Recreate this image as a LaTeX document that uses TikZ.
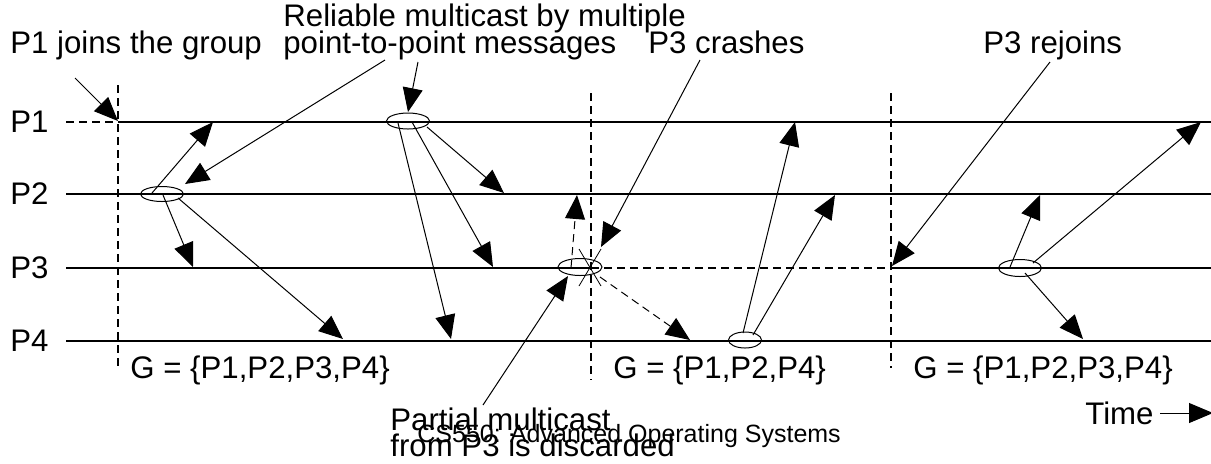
\documentclass[tikz,border=0pt]{standalone}
\usepackage{fontspec}
\setmainfont{Liberation Sans}
\usetikzlibrary{arrows.meta,shapes.geometric}
\begin{document}
\begin{tikzpicture}[x=0.5pt, y=-0.5pt,
		msg/.style = {-{Triangle[length=12pt, width=10pt]}, line width=0.5pt},
		lost/.style = {msg, dash pattern=on 4pt off 2.5pt},
		proc/.style = {draw, ellipse, inner sep=0pt, line width=0.5pt},
		txt/.style = {font=\fontsize{15.6}{18}\selectfont, inner sep=0pt, anchor=base west}]
				\tikzstyle{life}=[line width=0.55pt]
				\tikzstyle{cut}=[line width=0.55pt, dash pattern=on 4pt off 2.5pt]
				\useasboundingbox (0,0) rectangle (1211,463);
				\node (P1) at (10,122) [txt, anchor=west] {P1};
				\node (P2) at (10,194) [txt, anchor=west] {P2};
				\node (P3) at (10,268) [txt, anchor=west] {P3};
				\node (P4) at (10,341) [txt, anchor=west] {P4};
				\coordinate (a1) at (66,122);  \coordinate (b1) at (118,122); \coordinate (c1) at (1211,122);
				\coordinate (a2) at (66,194);  \coordinate (c2) at (1211,194);
				\coordinate (a3) at (66,268);  \coordinate (b3) at (591,268); \coordinate (d3) at (891,268); \coordinate (c3) at (1211,268);
				\coordinate (a4) at (66,341);  \coordinate (c4) at (1211,341);
				\draw[cut] (a1) -- (b1);
				\draw[life] (b1) -- (c1);
				\draw[life] (a2) -- (c2);
				\draw[life] (a3) -- (b3);
				\draw[cut] (b3) -- (d3);
				\draw[life] (d3) -- (c3);
				\draw[life] (a4) -- (c4);
				\draw[cut] (118,85) -- (118,368);
				\draw[cut] (591,93) -- (591,380);
				\draw[cut] (891,93) -- (891,368);
				\node (m2) at (162,194) [proc, minimum width=21.5pt, minimum height=7.5pt] {};
				\node (m1) at (408,121) [proc, minimum width=21.5pt, minimum height=8pt] {};
				\node (m3) at (580,267) [proc, minimum width=22pt, minimum height=8.5pt] {};
				\node (m4) at (745,340) [proc, minimum width=16.5pt, minimum height=8pt] {};
				\node (m5) at (1020,268) [proc, minimum width=21.5pt, minimum height=8.5pt] {};
				\coordinate (s21) at (152,193); \coordinate (t21) at (213,122);
				\coordinate (s23) at (163,195); \coordinate (t23) at (193,267);
				\coordinate (s24) at (178,198); \coordinate (t24) at (343,339);
				\coordinate (s12) at (427,127); \coordinate (t12) at (504,193);
				\coordinate (s13) at (412,122); \coordinate (t13) at (493,267);
				\coordinate (s14) at (398,123); \coordinate (t14) at (451,339);
				\coordinate (s32) at (571,268); \coordinate (t32) at (577,195);
				\coordinate (s34) at (600,277); \coordinate (t34) at (690,340);
				\coordinate (s41) at (743,333); \coordinate (t41) at (795,122);
				\coordinate (s42) at (753,335); \coordinate (t42) at (835,195);
				\coordinate (s52) at (1010,267); \coordinate (t52) at (1040,195);
				\coordinate (s51) at (1033,263); \coordinate (t51) at (1201,122);
				\coordinate (s54) at (1025,273); \coordinate (t54) at (1083,339);
				\draw[msg] (s21) -- (t21);
				\draw[msg] (s23) -- (t23);
				\draw[msg] (s24) -- (t24);
				\draw[msg] (s12) -- (t12);
				\draw[msg] (s13) -- (t13);
				\draw[msg] (s14) -- (t14);
				\draw[lost] (s32) -- (t32);
				\draw[lost] (s34) -- (t34);
				\draw[msg] (s41) -- (t41);
				\draw[msg] (s42) -- (t42);
				\draw[msg] (s52) -- (t52);
				\draw[msg] (s51) -- (t51);
				\draw[msg] (s54) -- (t54);
				\draw[line width=0.4pt] (579,249) -- (601,286);
				\draw[line width=0.4pt] (601,249) -- (579,286);
				\node (join) at (10,53) [txt] {P1 joins the group};
				\node (rel) at (283,26) [txt] {Reliable multicast by multiple};
				\node (relb) at (283,53) [txt] {point-to-point messages};
				\node (crash) at (648,53) [txt] {P3 crashes};
				\node (rejoin) at (983,53) [txt] {P3 rejoins};
				\node (part) at (390,430) [txt] {Partial multicast};
				\node (partb) at (390,456) [txt] {from P3 is discarded};
				\node (foot) at (417,442) [txt, font=\fontsize{12.5}{14}\selectfont] {CS550: Advanced Operating Systems};
				\node (g1) at (130,378) [txt] {G = \{P1,P2,P3,P4\}};
				\node (g2) at (613,378) [txt] {G = \{P1,P2,P4\}};
				\node (g3) at (913,378) [txt] {G = \{P1,P2,P3,P4\}};
				\node (time) at (1085,424) [txt] {Time};
				\coordinate (j0) at (75,78);    \coordinate (j1) at (118,121);
				\coordinate (r0) at (385,60);   \coordinate (r1) at (185,184);
				\coordinate (q0) at (418,62);   \coordinate (q1) at (408,112);
				\coordinate (k0) at (700,60);   \coordinate (k1) at (601,247);
				\coordinate (n0) at (1050,62);  \coordinate (n1) at (892,266);
				\coordinate (d0) at (483,405);  \coordinate (d1) at (568,276);
				\coordinate (w0) at (1160,413); \coordinate (w1) at (1213,413);
				\draw[msg] (j0) -- (j1);
				\draw[msg] (r0) -- (r1);
				\draw[msg] (q0) -- (q1);
				\draw[msg] (k0) -- (k1);
				\draw[msg] (n0) -- (n1);
				\draw[msg] (d0) -- (d1);
				\draw[msg] (w0) -- (w1);
\end{tikzpicture}
\end{document}
